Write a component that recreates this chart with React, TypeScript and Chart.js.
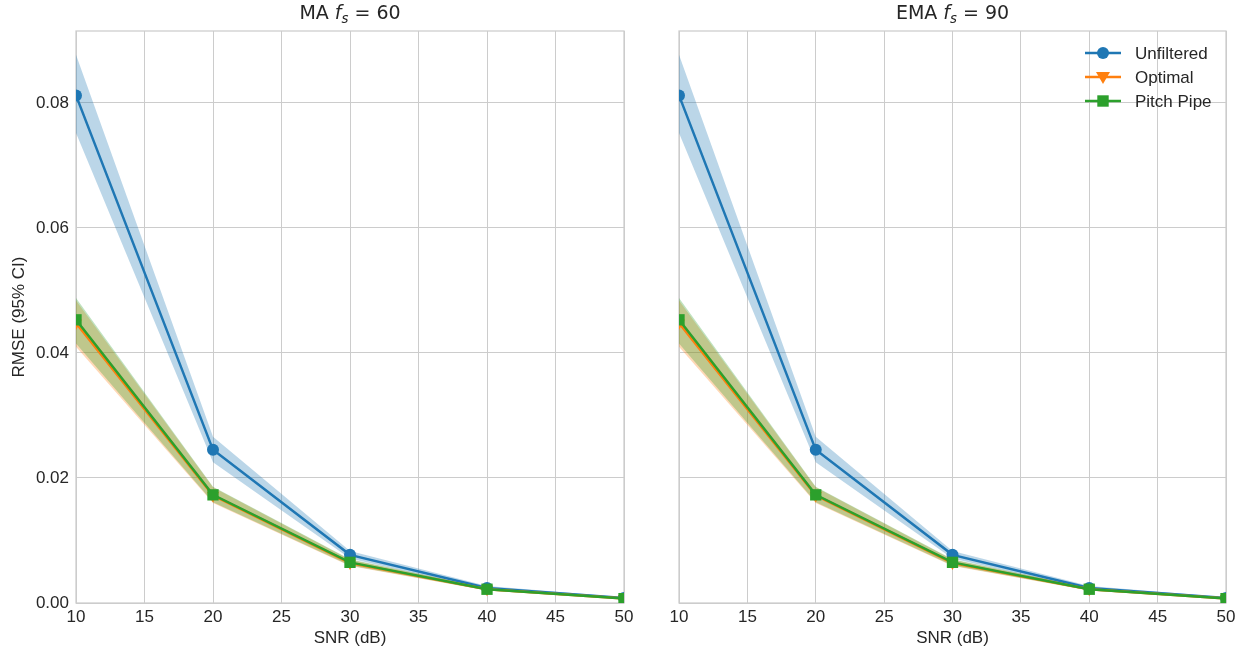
import React, { useEffect, useRef } from 'react';
import { Chart, registerables } from 'chart.js';

Chart.register(...registerables);

// ---- data ----
const snr = [10, 20, 30, 40, 50];
const xTickValues = [10, 15, 20, 25, 30, 35, 40, 45, 50];
const yTickValues = [0, 0.02, 0.04, 0.06, 0.08];
const yMax = 0.0915;

const unfilteredMean = [0.0812, 0.0245, 0.0077, 0.0024, 0.0008];
const unfilteredLow = [0.0752, 0.0225, 0.0071, 0.0021, 0.0007];
const unfilteredHigh = [0.0877, 0.0266, 0.0083, 0.0027, 0.0009];

const optimalMean = [0.0448, 0.0172, 0.0064, 0.0022, 0.0007];
const optimalLow = [0.0410, 0.0160, 0.0059, 0.0020, 0.0006];
const optimalHigh = [0.0484, 0.0185, 0.0069, 0.0024, 0.0008];

const pitchMean = [0.0453, 0.0173, 0.0065, 0.0022, 0.0007];
const pitchLow = [0.0415, 0.0161, 0.0060, 0.0020, 0.0006];
const pitchHigh = [0.0488, 0.0186, 0.0070, 0.0024, 0.0008];

const seriesLabels = ['Unfiltered', 'Optimal', 'Pitch Pipe'];
const panelPrefixes = ['MA', 'EMA'];
const panelValues = ['60', '90'];
const xAxisLabel = 'SNR (dB)';
const yAxisLabel = 'RMSE (95% CI)';

// ---- styles ----
const BLUE = '#1f77b4';
const ORANGE = '#ff7f0e';
const GREEN = '#2ca02c';
const BLUE_BAND = 'rgba(31,119,180,0.3)';
const ORANGE_BAND = 'rgba(255,127,14,0.3)';
const GREEN_BAND = 'rgba(44,160,44,0.3)';
const TEXT = '#262626';
const GRID = '#cccccc';
const SANS = '"Liberation Sans", Arial, sans-serif';
const DEJAVU = '"DejaVu Sans", sans-serif';
const H = 653;

const pts = (arr: number[]) => snr.map((x, i) => ({ x, y: arr[i] }));

function lineDs(label: string, arr: number[], color: string, style: string, radius: number, order: number, rotation = 0) {
  return {
    label,
    data: pts(arr),
    borderColor: color,
    backgroundColor: color,
    borderWidth: 2.5,
    pointStyle: style,
    pointRadius: radius,
    pointRotation: rotation,
    pointBorderWidth: 0,
    pointBackgroundColor: color,
    tension: 0,
    fill: false,
    clip: 0,
    order,
  };
}

function bandDs(arr: number[], fill: any, color: string, order: number) {
  return {
    label: '',
    data: pts(arr),
    borderWidth: 0,
    borderColor: 'rgba(0,0,0,0)',
    backgroundColor: color,
    pointRadius: 0,
    tension: 0,
    fill,
    clip: 0,
    order,
  };
}

function buildDatasets() {
  return [
    lineDs(seriesLabels[0], unfilteredMean, BLUE, 'circle', 6, 2),
    lineDs(seriesLabels[1], optimalMean, ORANGE, 'triangle', 7, 1, 180),
    lineDs(seriesLabels[2], pitchMean, GREEN, 'rect', 8, 0),
    bandDs(unfilteredHigh, false, BLUE_BAND, 5),
    bandDs(unfilteredLow, '-1', BLUE_BAND, 5),
    bandDs(optimalHigh, false, ORANGE_BAND, 4),
    bandDs(optimalLow, '-1', ORANGE_BAND, 4),
    bandDs(pitchHigh, false, GREEN_BAND, 3),
    bandDs(pitchLow, '-1', GREEN_BAND, 3),
  ];
}

function drawTitle(ctx: CanvasRenderingContext2D, area: any, prefix: string, value: string) {
  const parts = [
    { t: prefix + ' ', f: `19px ${DEJAVU}`, dy: 0 },
    { t: 'f', f: `italic 19px ${DEJAVU}`, dy: 0 },
    { t: 's', f: `italic 13.3px ${DEJAVU}`, dy: 4 },
    { t: ' = ' + value, f: `19px ${DEJAVU}`, dy: 0 },
  ];
  ctx.save();
  let total = 0;
  const widths = parts.map((p) => {
    ctx.font = p.f;
    const w = ctx.measureText(p.t).width;
    total += w;
    return w;
  });
  let x = (area.left + area.right) / 2 - total / 2;
  ctx.fillStyle = TEXT;
  ctx.textBaseline = 'alphabetic';
  ctx.textAlign = 'left';
  parts.forEach((p, i) => {
    ctx.font = p.f;
    ctx.fillText(p.t, x, 19 + p.dy);
    x += widths[i];
  });
  ctx.restore();
}

function drawMarker(ctx: CanvasRenderingContext2D, kind: string, x: number, y: number, color: string) {
  ctx.fillStyle = color;
  ctx.beginPath();
  if (kind === 'circle') {
    ctx.arc(x, y, 6, 0, Math.PI * 2);
  } else if (kind === 'tri') {
    ctx.moveTo(x - 7, y - 5);
    ctx.lineTo(x + 7, y - 5);
    ctx.lineTo(x, y + 7);
    ctx.closePath();
  } else {
    ctx.rect(x - 5.7, y - 5.7, 11.4, 11.4);
  }
  ctx.fill();
}

function drawLegend(ctx: CanvasRenderingContext2D) {
  const rows = [
    { label: seriesLabels[0], color: BLUE, kind: 'circle', y: 53 },
    { label: seriesLabels[1], color: ORANGE, kind: 'tri', y: 77 },
    { label: seriesLabels[2], color: GREEN, kind: 'rect', y: 101 },
  ];
  ctx.save();
  rows.forEach((r) => {
    ctx.strokeStyle = r.color;
    ctx.lineWidth = 2.5;
    ctx.beginPath();
    ctx.moveTo(435, r.y);
    ctx.lineTo(471, r.y);
    ctx.stroke();
    drawMarker(ctx, r.kind, 453, r.y, r.color);
    ctx.fillStyle = TEXT;
    ctx.font = `17px ${SANS}`;
    ctx.textAlign = 'left';
    ctx.textBaseline = 'middle';
    ctx.fillText(r.label, 485, r.y + 1);
  });
  ctx.restore();
}

type PanelProps = {
  index: number;
  left: number;
  width: number;
  yAxisWidth: number;
  rightPad: number;
  showYLabels: boolean;
  showLegend: boolean;
};

function Panel({ index, left, width, yAxisWidth, rightPad, showYLabels, showLegend }: PanelProps) {
  const ref = useRef<HTMLCanvasElement>(null);
  useEffect(() => {
    const decor = {
      id: 'decor' + index,
      beforeDatasetsDraw(chart: any) {
        const { ctx, chartArea: a } = chart;
        ctx.save();
        ctx.strokeStyle = GRID;
        ctx.lineWidth = 1.25;
        ctx.strokeRect(a.left, a.top, a.right - a.left, a.bottom - a.top);
        ctx.restore();
      },
      afterDraw(chart: any) {
        const { ctx, chartArea: a } = chart;
        drawTitle(ctx, a, panelPrefixes[index], panelValues[index]);
        if (showLegend) drawLegend(ctx);
      },
    };
    const chart = new Chart(ref.current as HTMLCanvasElement, {
      type: 'line',
      data: { datasets: buildDatasets() as any },
      options: {
        animation: false,
        responsive: false,
        maintainAspectRatio: false,
        devicePixelRatio: 1,
        layout: { padding: { top: 31, right: rightPad, left: 0, bottom: 0 } },
        plugins: { legend: { display: false }, tooltip: { enabled: false }, title: { display: false } },
        scales: {
          x: {
            type: 'linear',
            min: 10,
            max: 50,
            afterBuildTicks: (s: any) => {
              s.ticks = xTickValues.map((v) => ({ value: v }));
            },
            afterFit: (s: any) => {
              s.height = H - 603;
            },
            grid: { color: GRID, lineWidth: 1, drawTicks: false },
            border: { display: false },
            ticks: { color: TEXT, font: { family: SANS, size: 17 }, padding: 4, maxRotation: 0, autoSkip: false },
            title: {
              display: true,
              text: xAxisLabel,
              color: TEXT,
              font: { family: SANS, size: 17 },
              padding: { top: 0, bottom: 4 },
            },
          },
          y: {
            type: 'linear',
            min: 0,
            max: yMax,
            afterBuildTicks: (s: any) => {
              s.ticks = yTickValues.map((v) => ({ value: v }));
            },
            afterFit: (s: any) => {
              s.width = yAxisWidth;
            },
            grid: { color: GRID, lineWidth: 1, drawTicks: false },
            border: { display: false },
            ticks: {
              display: showYLabels,
              color: TEXT,
              font: { family: SANS, size: 17 },
              padding: 7,
              callback: (v: any) => Number(v).toFixed(2),
            },
            title: {
              display: showYLabels,
              text: yAxisLabel,
              color: TEXT,
              font: { family: SANS, size: 17 },
              padding: { top: 9, bottom: 0 },
            },
          },
        },
      } as any,
      plugins: [decor],
    });
    return () => chart.destroy();
  }, []);
  return (
    <canvas
      ref={ref}
      width={width}
      height={H}
      style={{ position: 'absolute', left, top: 0, width, height: H, display: 'block' }}
    />
  );
}

export default function App() {
  return (
    <div style={{ position: 'absolute', left: 0, top: 0, width: 1246, height: H, background: '#ffffff' }}>
      <Panel index={0} left={0} width={650} yAxisWidth={76} rightPad={26} showYLabels={true} showLegend={false} />
      <Panel index={1} left={650} width={596} yAxisWidth={29} rightPad={20} showYLabels={false} showLegend={true} />
    </div>
  );
}
